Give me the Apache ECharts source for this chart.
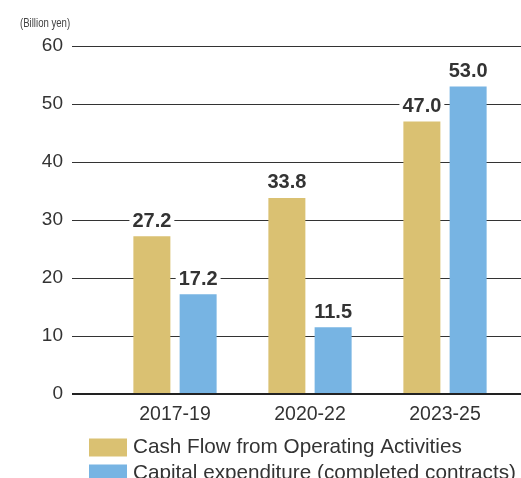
<!DOCTYPE html>
<html>
<head>
<meta charset="utf-8">
<script src="https://cdn.jsdelivr.net/npm/echarts@6/dist/echarts.min.js"></script>
<style>
html,body{margin:0;padding:0;background:#fff;}
#chart{width:521px;height:478px;}
</style>
</head>
<body>
<div id="chart"></div>
<script>
// 数据
var categories = ['2017-19', '2020-22', '2023-25'];
var cashFlow = [27.2, 33.8, 47.0];        // Cash Flow from Operating Activities
var capex = [17.2, 11.5, 53.0];           // Capital expenditure (completed contracts)
var seriesNames = ['Cash Flow from Operating Activities', 'Capital expenditure (completed contracts)'];
var yTicks = [0, 10, 20, 30, 40, 50, 60];

var myChart = echarts.init(document.getElementById('chart'));

var labelStyle = {
	show: true,
	position: 'top',
	distance: 5,
	fontFamily: 'Liberation Sans',
	fontSize: 20,
	fontWeight: 'bold',
	color: '#333',
	backgroundColor: '#fff',
	padding: [0, 3],
	formatter: function(p){ return p.value.toFixed(1); }
};

var option = {
	animation: false,
	textStyle: {fontFamily: 'Liberation Sans'},
	graphic: [{
		type: 'text',
		x: 20,
		y: 18,
		scaleX: 0.8,
		style: {
			text: '(Billion yen)',
			font: '12px "Liberation Sans", sans-serif',
			fill: '#444'
		}
	}],
	legend: {
		orient: 'vertical',
		left: 89,
		top: 437,
		height: 80,
		padding: 0,
		itemWidth: 38,
		itemHeight: 18,
		itemGap: 5,
		icon: 'rect',
		textStyle: {fontSize: 20.7, color: '#333', fontFamily: 'Liberation Sans', padding: [0, 0, 0, 1]},
		data: seriesNames
	},
	grid: [
		// 刻度线用
		{left: 72, right: 0, top: 46, bottom: 84},
		// 柱子用
		{left: 107.5, right: 8.5, top: 46, bottom: 84}
	],
	xAxis: [{
		gridIndex: 0,
		type: 'value',
		show: false,
		min: 0,
		max: 1
	}, {
		gridIndex: 1,
		type: 'category',
		data: categories,
		axisLine: {show: false},
		axisTick: {show: false},
		axisLabel: {fontSize: 19.5, color: '#333', margin: 11, fontFamily: 'Liberation Sans'}
	}],
	yAxis: [{
		gridIndex: 0,
		type: 'value',
		min: yTicks[0],
		max: yTicks[yTicks.length - 1],
		interval: 10,
		axisLine: {show: false},
		axisTick: {show: false},
		axisLabel: {fontSize: 19, color: '#333', margin: 9, fontFamily: 'Liberation Sans'},
		splitLine: {lineStyle: {color: '#333', width: 1}}
	}, {
		gridIndex: 1,
		type: 'value',
		min: yTicks[0],
		max: yTicks[yTicks.length - 1],
		interval: 10,
		show: false,
		splitLine: {show: false}
	}],
	series: [{
		name: seriesNames[0],
		type: 'bar',
		xAxisIndex: 1,
		yAxisIndex: 1,
		barWidth: 37,
		barGap: '25%',
		itemStyle: {color: '#dac172'},
		label: labelStyle,
		data: cashFlow,
		z: 3
	}, {
		name: seriesNames[1],
		type: 'bar',
		xAxisIndex: 1,
		yAxisIndex: 1,
		barWidth: 37,
		barGap: '25%',
		itemStyle: {color: '#77b4e3'},
		label: labelStyle,
		data: capex,
		z: 3
	}, {
		// 零轴
		type: 'line',
		xAxisIndex: 0,
		yAxisIndex: 0,
		silent: true,
		symbol: 'none',
		data: [[0, 0], [1, 0]],
		lineStyle: {color: '#222', width: 2},
		z: 4
	}]
};
myChart.setOption(option);
</script>
</body>
</html>
